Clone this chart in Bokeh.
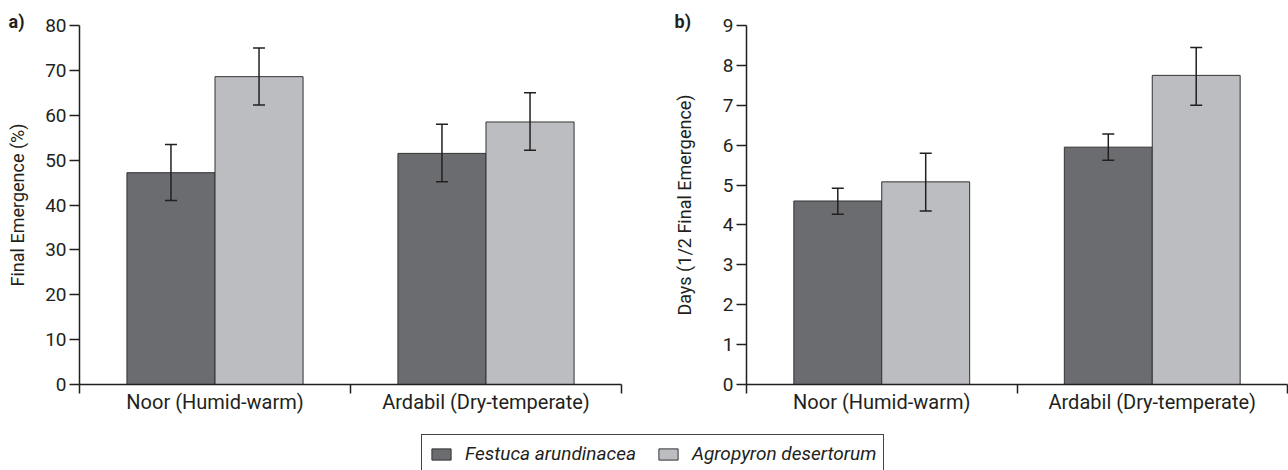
import numpy as np
from bokeh.plotting import figure
from bokeh.models import (ColumnDataSource, Range1d, FixedTicker, Whisker, TeeHead,
                          Title, Legend, LegendItem, LinearAxis)
from bokeh.layouts import column, row
from bokeh.embed import file_html
from bokeh.resources import INLINE

# ---- data ----
categories = ["Noor (Humid-warm)", "Ardabil (Dry-temperate)"]
species = ["Festuca arundinacea", "Agropyron desertorum"]

emerg_festuca = [47.2, 51.5]
emerg_festuca_lo = [41.0, 45.2]
emerg_festuca_hi = [53.5, 58.0]
emerg_agro = [68.6, 58.5]
emerg_agro_lo = [62.3, 52.2]
emerg_agro_hi = [75.0, 65.0]

days_festuca = [4.6, 5.95]
days_festuca_lo = [4.27, 5.62]
days_festuca_hi = [4.92, 6.28]
days_agro = [5.08, 7.75]
days_agro_lo = [4.35, 7.0]
days_agro_hi = [5.8, 8.45]

ticks_a = list(range(0, 81, 10))
ticks_b = list(range(0, 10))

# ---- style ----
FONT = "Roboto"
DARK = "#6b6c70"
LIGHT = "#bcbdc1"
EDGE = "#333333"
INK = "#231f20"
BW = 0.325
MAIN_H = 434


def make_panel(width, left, right, ymax, yticks, ylabel, label_std, tag, tag_dx,
               f_vals, f_lo, f_hi, a_vals, a_lo, a_hi):
    ncat = len(categories)
    p = figure(width=width, height=MAIN_H, output_backend="svg", toolbar_location=None,
               x_range=Range1d(0, ncat), y_range=Range1d(0, ymax),
               min_border_left=left, min_border_right=right, min_border_top=25,
               min_border_bottom=50)
    p.title = Title(text=tag, align="left", offset=-tag_dx, standoff=-15,
                    vertical_align="middle",
                    text_font=FONT, text_font_style="bold", text_font_size="18px",
                    text_color=INK)
    p.xaxis.visible = False
    p.yaxis.visible = False
    p.grid.visible = False
    p.outline_line_color = None

    xc = np.arange(ncat) + 0.5
    src_f = ColumnDataSource(dict(x=xc - BW / 2, top=f_vals, lo=f_lo, hi=f_hi))
    src_a = ColumnDataSource(dict(x=xc + BW / 2, top=a_vals, lo=a_lo, hi=a_hi))
    p.vbar(x="x", top="top", width=BW, source=src_f, fill_color=DARK,
           line_color=EDGE, line_width=1)
    p.vbar(x="x", top="top", width=BW, source=src_a, fill_color=LIGHT,
           line_color=EDGE, line_width=1)
    for s in (src_f, src_a):
        w = Whisker(base="x", upper="hi", lower="lo", source=s, line_color=INK,
                    line_width=1.5, level="overlay",
                    upper_head=TeeHead(size=12, line_color=INK, line_width=1.5),
                    lower_head=TeeHead(size=12, line_color=INK, line_width=1.5))
        p.add_layout(w)

    ya = LinearAxis(ticker=FixedTicker(ticks=yticks), axis_label=ylabel)
    ya.axis_line_color = INK
    ya.axis_line_width = 1.5
    ya.major_tick_line_color = INK
    ya.major_tick_line_width = 1.5
    ya.major_tick_out = 10
    ya.major_tick_in = 0
    ya.minor_tick_line_color = None
    ya.major_label_standoff = 3
    ya.major_label_text_font = FONT
    ya.major_label_text_font_size = "19px"
    ya.major_label_text_color = INK
    ya.axis_label_text_font = FONT
    ya.axis_label_text_font_size = "18px"
    ya.axis_label_text_font_style = "normal"
    ya.axis_label_text_color = INK
    ya.axis_label_standoff = label_std
    p.add_layout(ya, "left")

    xc_list = [float(v) for v in xc]
    xa = LinearAxis(ticker=FixedTicker(ticks=xc_list, minor_ticks=list(range(ncat + 1))))
    xa.major_label_overrides = {v: c for v, c in zip(xc_list, categories)}
    xa.axis_line_color = INK
    xa.axis_line_width = 1.5
    xa.major_tick_line_color = None
    xa.major_tick_out = 0
    xa.major_tick_in = 0
    xa.minor_tick_line_color = INK
    xa.minor_tick_line_width = 1.5
    xa.minor_tick_out = 9
    xa.minor_tick_in = 0
    xa.major_label_standoff = -4
    xa.major_label_text_font = FONT
    xa.major_label_text_font_size = "20px"
    xa.major_label_text_color = INK
    p.add_layout(xa, "below")
    return p


pa = make_panel(640, 79, 19, 80, ticks_a, "Final Emergence (%)", 14, "a)", 71,
                emerg_festuca, emerg_festuca_lo, emerg_festuca_hi,
                emerg_agro, emerg_agro_lo, emerg_agro_hi)
pb = make_panel(648, 106, 1, 9, ticks_b, "Days (1/2 Final Emergence)", 25, "b)", 72,
                days_festuca, days_festuca_lo, days_festuca_hi,
                days_agro, days_agro_lo, days_agro_hi)

# legend strip
LEG_H = 36
pl = figure(width=1288, height=LEG_H, output_backend="svg", toolbar_location=None,
            x_range=Range1d(0, 1), y_range=Range1d(0, 1),
            min_border_left=0, min_border_right=0, min_border_top=0, min_border_bottom=0)
pl.axis.visible = False
pl.grid.visible = False
pl.outline_line_color = None
offscreen = ColumnDataSource(dict(x=[-10.0], top=[-10.0]))
r1 = pl.vbar(x="x", top="top", width=0.1, source=offscreen, fill_color=DARK,
             line_color=EDGE, line_width=1)
r2 = pl.vbar(x="x", top="top", width=0.1, source=offscreen, fill_color=LIGHT,
             line_color=EDGE, line_width=1)
leg = Legend(items=[LegendItem(label=species[0], renderers=[r1]),
                    LegendItem(label=species[1], renderers=[r2])],
             orientation="horizontal", location=(421, -3),
             padding=7, spacing=20, margin=0, label_standoff=12,
             glyph_width=24, glyph_height=14, label_height=22,
             label_text_font=FONT, label_text_font_style="italic",
             label_text_font_size="19px", label_text_color=INK,
             border_line_color="#444444", border_line_width=1.5, border_line_alpha=1,
             background_fill_color="white", background_fill_alpha=1)
pl.add_layout(leg, "center")

layout = column(row(pa, pb), pl)
open("out.html", "w").write(file_html(layout, INLINE))
